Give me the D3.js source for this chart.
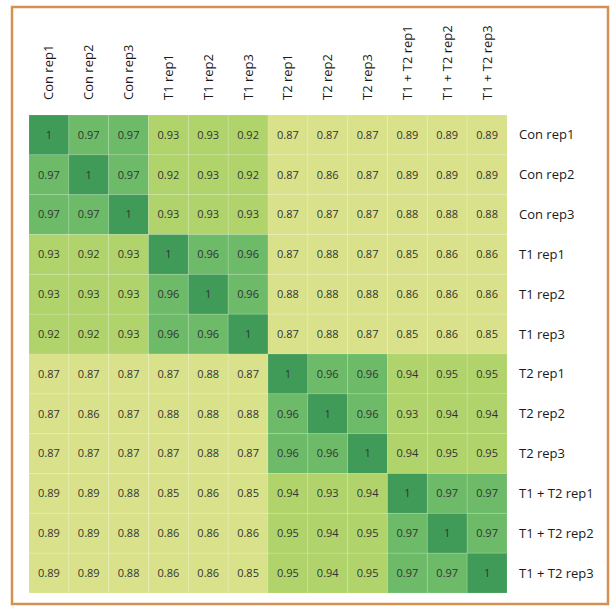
<!DOCTYPE html>
<html>
<head>
<meta charset="utf-8">
<script src="https://cdn.jsdelivr.net/npm/d3@7"></script>
<style>
  body { margin: 0; background: #fff; }
  text { font-family: "Open Sans", sans-serif; }
</style>
</head>
<body>
<svg width="610" height="609"></svg>
<script>
var samples = ["Con rep1", "Con rep2", "Con rep3", "T1 rep1", "T1 rep2", "T1 rep3",
               "T2 rep1", "T2 rep2", "T2 rep3", "T1 + T2 rep1", "T1 + T2 rep2", "T1 + T2 rep3"];

var conRep1 = [1, 0.97, 0.97, 0.93, 0.93, 0.92, 0.87, 0.87, 0.87, 0.89, 0.89, 0.89];
var conRep2 = [0.97, 1, 0.97, 0.92, 0.93, 0.92, 0.87, 0.86, 0.87, 0.89, 0.89, 0.89];
var conRep3 = [0.97, 0.97, 1, 0.93, 0.93, 0.93, 0.87, 0.87, 0.87, 0.88, 0.88, 0.88];
var t1Rep1 = [0.93, 0.92, 0.93, 1, 0.96, 0.96, 0.87, 0.88, 0.87, 0.85, 0.86, 0.86];
var t1Rep2 = [0.93, 0.93, 0.93, 0.96, 1, 0.96, 0.88, 0.88, 0.88, 0.86, 0.86, 0.86];
var t1Rep3 = [0.92, 0.92, 0.93, 0.96, 0.96, 1, 0.87, 0.88, 0.87, 0.85, 0.86, 0.85];
var t2Rep1 = [0.87, 0.87, 0.87, 0.87, 0.88, 0.87, 1, 0.96, 0.96, 0.94, 0.95, 0.95];
var t2Rep2 = [0.87, 0.86, 0.87, 0.88, 0.88, 0.88, 0.96, 1, 0.96, 0.93, 0.94, 0.94];
var t2Rep3 = [0.87, 0.87, 0.87, 0.87, 0.88, 0.87, 0.96, 0.96, 1, 0.94, 0.95, 0.95];
var t12Rep1 = [0.89, 0.89, 0.88, 0.85, 0.86, 0.85, 0.94, 0.93, 0.94, 1, 0.97, 0.97];
var t12Rep2 = [0.89, 0.89, 0.88, 0.86, 0.86, 0.86, 0.95, 0.94, 0.95, 0.97, 1, 0.97];
var t12Rep3 = [0.89, 0.89, 0.88, 0.86, 0.86, 0.85, 0.95, 0.94, 0.95, 0.97, 0.97, 1];

var matrix = [conRep1, conRep2, conRep3, t1Rep1, t1Rep2, t1Rep3,
              t2Rep1, t2Rep2, t2Rep3, t12Rep1, t12Rep2, t12Rep3];

var svg = d3.select("svg");

// frame
svg.append("rect")
    .attr("x", 12).attr("y", 7)
    .attr("width", 596).attr("height", 597)
    .attr("fill", "none")
    .attr("stroke", "#d39152")
    .attr("stroke-width", 2.5);

var gridLeft = 29, gridTop = 115, gridSize = 478;

var x = d3.scaleBand().domain(samples).range([gridLeft, gridLeft + gridSize]);
var y = d3.scaleBand().domain(samples).range([gridTop, gridTop + gridSize]);

var color = d3.scaleThreshold()
    .domain([0.9, 0.955, 0.99])
    .range(["#d9e28b", "#b0d36c", "#6dbb69", "#419b58"]);

var cells = [];
matrix.forEach(function (row, i) {
  row.forEach(function (v, j) {
    cells.push({ r: samples[i], c: samples[j], v: v });
  });
});

var g = svg.append("g");

g.selectAll("rect.cell")
  .data(cells)
  .enter().append("rect")
    .attr("class", "cell")
    .attr("x", function (d) { return x(d.c); })
    .attr("y", function (d) { return y(d.r); })
    .attr("width", x.bandwidth())
    .attr("height", y.bandwidth())
    .attr("fill", function (d) { return color(d.v); })
    .attr("stroke", "rgba(255,255,255,0.12)")
    .attr("stroke-width", 1);

g.selectAll("text.val")
  .data(cells)
  .enter().append("text")
    .attr("class", "val")
    .attr("x", function (d) { return x(d.c) + x.bandwidth() / 2; })
    .attr("y", function (d) { return y(d.r) + y.bandwidth() / 2; })
    .attr("dy", "0.35em")
    .attr("text-anchor", "middle")
    .attr("font-size", 11)
    .attr("fill", "#333")
    .text(function (d) { return d.v; });

// column labels
svg.selectAll("text.col")
  .data(samples)
  .enter().append("text")
    .attr("class", "col")
    .attr("transform", function (d) {
      return "translate(" + (x(d) + x.bandwidth() / 2) + "," + (gridTop - 15) + ") rotate(-90)";
    })
    .attr("dy", "0.35em")
    .attr("font-size", 13)
    .attr("fill", "#1a1a1a")
    .text(function (d) { return d; });

// row labels
svg.selectAll("text.row")
  .data(samples)
  .enter().append("text")
    .attr("class", "row")
    .attr("x", gridLeft + gridSize + 12)
    .attr("y", function (d) { return y(d) + y.bandwidth() / 2; })
    .attr("dy", "0.35em")
    .attr("font-size", 13)
    .attr("fill", "#1a1a1a")
    .text(function (d) { return d; });
</script>
</body>
</html>
